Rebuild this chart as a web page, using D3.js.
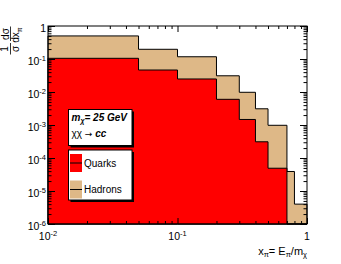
<!DOCTYPE html>
<html>
<head>
  <meta charset="UTF-8">
  <title>Pion spectrum</title>
  <script src="https://d3js.org/d3.v7.min.js"></script>
  <style>
    body {
      margin: 0;
      background: #fff;
    }
    svg {
      display: block;
      font-family: "Liberation Sans", Arial, sans-serif;
    }
    .axis path {
      display: none;
    }
    .axis line {
      stroke: #000;
      stroke-width: 1;
    }
  </style>
</head>
<body>
  <svg id="chart" width="341" height="264"></svg>
  <script>
    // histogram bins (x = E_pi / m_chi) and normalised contents
    const binEdges = [0.01, 0.05, 0.1, 0.2, 0.3, 0.4, 0.5, 0.7, 0.8, 1.0];
    const hadrons = [0.50, 0.197, 0.117, 0.031, 0.0098, 0.0031, 0.00098, 3.9e-5, 4.0e-6];
    const quarks = [0.105, 0.0464, 0.0248, 0.0060, 0.00147, 3.1e-4, 4.9e-5, 0, 0];

    const xTickValues = [0.01, 0.1, 1];
    const xTickBases = ["10", "10", "1"];
    const xTickExps = ["-2", "-1", ""];
    const yTickValues = [1, 1e-1, 1e-2, 1e-3, 1e-4, 1e-5, 1e-6];
    const yTickBases = ["1", "10", "10", "10", "10", "10", "10"];
    const yTickExps = ["", "-1", "-2", "-3", "-4", "-5", "-6"];

    const legendNames = ["Quarks", "Hadrons"];
    const legendColors = ["#ff0000", "#deb887"];

    const margin = { top: 26, right: 34, bottom: 40, left: 48 };
    const width = 341 - margin.left - margin.right;
    const height = 264 - margin.top - margin.bottom;

    const svg = d3.select("#chart");
    const g = svg.append("g")
      .attr("transform", `translate(${margin.left},${margin.top})`);

    const x = d3.scaleLog().domain([0.01, 1]).range([0, width]);
    const y = d3.scaleLog().domain([1e-6, 1]).range([height, 0]);

    const steps = vals => {
      const pts = [];
      vals.forEach((v, i) => {
        pts.push([binEdges[i], v]);
        pts.push([binEdges[i + 1], v]);
      });
      return pts;
    };

    const area = d3.area()
      .x(d => x(d[0]))
      .y0(height)
      .y1(d => d[1] > 1e-6 ? y(d[1]) : height);

    g.append("path")
      .datum(steps(hadrons))
      .attr("d", area)
      .attr("fill", "#deb887")
      .attr("stroke", "#000")
      .attr("stroke-width", 1);

    g.append("path")
      .datum(steps(quarks))
      .attr("d", area)
      .attr("fill", "#ff0000")
      .attr("stroke", "#000")
      .attr("stroke-width", 1);

    // ticks on all four sides, pointing inwards
    const xMinor = x.ticks().filter(v => !xTickValues.includes(v));
    const yMinor = y.ticks().filter(v => !yTickValues.some(t => Math.abs(t - v) / v < 1e-6));

    const addAxis = (axis, transform) => {
      g.append("g")
        .attr("class", "axis")
        .attr("transform", transform)
        .call(axis);
    };

    addAxis(d3.axisBottom(x).tickValues(xTickValues).tickSize(-6).tickFormat(""), `translate(0,${height})`);
    addAxis(d3.axisBottom(x).tickValues(xMinor).tickSize(-3).tickFormat(""), `translate(0,${height})`);
    addAxis(d3.axisTop(x).tickValues(xTickValues).tickSize(-6).tickFormat(""), "translate(0,0)");
    addAxis(d3.axisTop(x).tickValues(xMinor).tickSize(-3).tickFormat(""), "translate(0,0)");
    addAxis(d3.axisLeft(y).tickValues(yTickValues).tickSize(-7).tickFormat(""), "translate(0,0)");
    addAxis(d3.axisLeft(y).tickValues(yMinor).tickSize(-3.5).tickFormat(""), "translate(0,0)");
    addAxis(d3.axisRight(y).tickValues(yTickValues).tickSize(-7).tickFormat(""), `translate(${width},0)`);
    addAxis(d3.axisRight(y).tickValues(yMinor).tickSize(-3.5).tickFormat(""), `translate(${width},0)`);

    g.append("rect")
      .attr("x", 0)
      .attr("y", 0)
      .attr("width", width)
      .attr("height", height)
      .attr("fill", "none")
      .attr("stroke", "#000")
      .attr("stroke-width", 1);

    // tick labels with superscript exponents
    xTickValues.forEach((v, i) => {
      const t = g.append("text")
        .attr("x", x(v))
        .attr("y", height + 16)
        .attr("text-anchor", "middle")
        .attr("font-size", 10.5);
      t.append("tspan").text(xTickBases[i]);
      if (xTickExps[i]) t.append("tspan").attr("dy", -4.5).attr("font-size", 7.5).text(xTickExps[i]);
    });

    yTickValues.forEach((v, i) => {
      const t = g.append("text")
        .attr("x", -2)
        .attr("y", y(v) + 6)
        .attr("text-anchor", "end")
        .attr("font-size", 10.5);
      t.append("tspan").text(yTickBases[i]);
      if (yTickExps[i]) t.append("tspan").attr("dy", -4.5).attr("font-size", 7.5).text(yTickExps[i]);
    });

    // x title
    const xt = svg.append("text")
      .attr("x", margin.left + width)
      .attr("y", 255)
      .attr("text-anchor", "end")
      .attr("font-size", 11);
    xt.append("tspan").text("x");
    xt.append("tspan").attr("dy", 2).attr("font-size", 7.5).text("π");
    xt.append("tspan").attr("dy", -2).text("= E");
    xt.append("tspan").attr("dy", 2).attr("font-size", 7.5).text("π");
    xt.append("tspan").attr("dy", -2).text("/m");
    xt.append("tspan").attr("dy", 2).attr("font-size", 7.5).text("χ");

    // y title: 1/σ dσ/dx_π, rotated
    const yt = svg.append("g")
      .attr("transform", "translate(2,55) rotate(-90)")
      .attr("font-size", 10);
    yt.append("text").attr("x", 6).attr("y", 6).attr("text-anchor", "middle").text("1");
    yt.append("line").attr("x1", 0.5).attr("x2", 12).attr("y1", 8.5).attr("y2", 8.5)
      .attr("stroke", "#000").attr("stroke-width", 0.8);
    yt.append("text").attr("x", 6).attr("y", 17).attr("text-anchor", "middle").text("σ");
    yt.append("text").attr("x", 21).attr("y", 7).attr("text-anchor", "middle").text("dσ");
    yt.append("line").attr("x1", 14).attr("x2", 28.5).attr("y1", 8.5).attr("y2", 8.5)
      .attr("stroke", "#000").attr("stroke-width", 0.8);
    const den = yt.append("text").attr("x", 20).attr("y", 17).attr("text-anchor", "middle");
    den.append("tspan").text("dx");
    den.append("tspan").attr("dy", 2.5).attr("font-size", 7).text("π");

    // boxes with shadow
    const box = (bx, by, bw, bh) => {
      svg.append("rect").attr("x", bx + 2).attr("y", by + 2).attr("width", bw).attr("height", bh)
        .attr("fill", "#000");
      svg.append("rect").attr("x", bx).attr("y", by).attr("width", bw).attr("height", bh)
        .attr("fill", "#fff").attr("stroke", "#000").attr("stroke-width", 1);
    };

    box(68.5, 109.5, 63.5, 36);
    const l1 = svg.append("text").attr("x", 71.5).attr("y", 120.5)
      .attr("font-size", 10).attr("font-weight", "bold").attr("font-style", "italic");
    l1.append("tspan").text("m");
    l1.append("tspan").attr("dy", 2).attr("font-size", 7).text("χ");
    l1.append("tspan").attr("dy", -2).text("= 25 GeV");
    const l2 = svg.append("text").attr("x", 71.5).attr("y", 137).attr("font-size", 10);
    l2.append("tspan").text("χχ ");
    l2.append("tspan").attr("font-family", "DejaVu Sans").attr("font-size", 9).text("→ ");
    l2.append("tspan").attr("font-weight", "bold").attr("font-style", "italic").text("cc");

    box(68.5, 150, 63.5, 50);
    legendNames.forEach((name, i) => {
      const cy = 163 + i * 26.5;
      svg.append("rect").attr("x", 70).attr("y", cy - 9).attr("width", 12).attr("height", 18)
        .attr("fill", legendColors[i]);
      svg.append("line").attr("x1", 70).attr("x2", 82).attr("y1", cy).attr("y2", cy)
        .attr("stroke", "#000").attr("stroke-width", 1);
      svg.append("text").attr("x", 84).attr("y", cy + 3.5).attr("font-size", 10).text(name);
    });
  </script>
</body>
</html>
